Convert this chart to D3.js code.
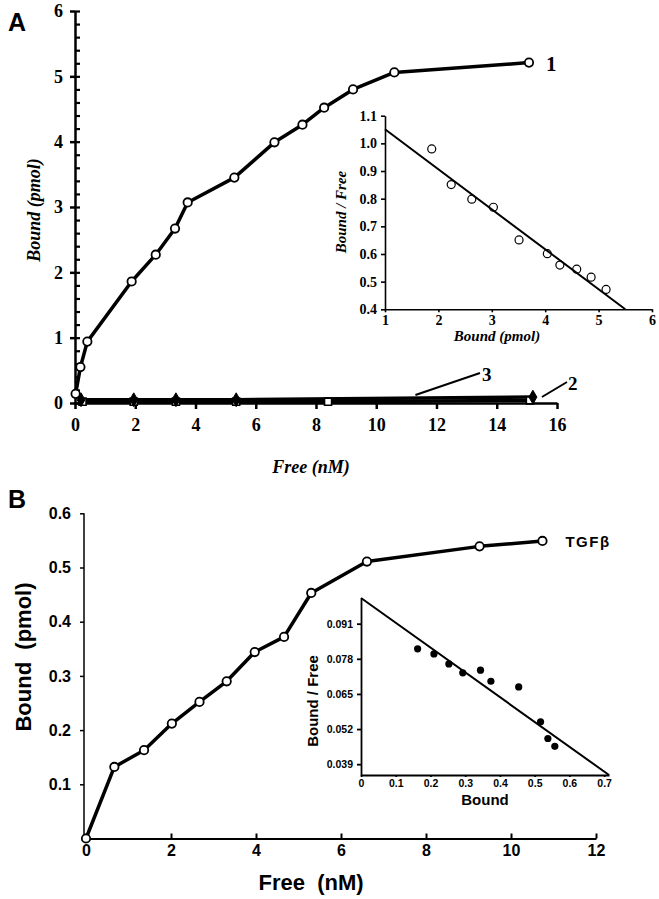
<!DOCTYPE html>
<html><head><meta charset="utf-8">
<script src="https://cdn.jsdelivr.net/npm/d3@7"></script>
<style>body{margin:0;background:#fff}svg{display:block}</style>
</head><body>
<svg id="c" width="659" height="899"></svg>
<script>
// ---------- Panel A data ----------
const freeA1  = [0.02, 0.18, 0.41, 1.88, 2.68, 3.32, 3.74, 5.29, 6.62, 7.55, 8.27, 9.23, 10.6, 15.07];
const boundA1 = [0.14, 0.55, 0.94, 1.86, 2.27, 2.67, 3.07, 3.45, 3.99, 4.26, 4.52, 4.80, 5.06, 5.21];
const freeA2  = [0.2, 1.95, 3.35, 5.35, 15.2];
const boundA2 = [0.05, 0.05, 0.05, 0.05, 0.09];
const freeA3  = [0.25, 1.95, 3.35, 5.35, 8.4, 15.1];
const boundA3 = [0.02, 0.02, 0.02, 0.02, 0.02, 0.04];
const xTicksA = [0, 2, 4, 6, 8, 10, 12, 14, 16];
const yTicksA = [0, 1, 2, 3, 4, 5, 6];
// inset A (Scatchard)
const insA_bound = [1.875, 2.24, 2.625, 3.03, 3.51, 4.04, 4.275, 4.59, 4.86, 5.14];
const insA_bf    = [0.98, 0.851, 0.798, 0.769, 0.651, 0.601, 0.560, 0.545, 0.516, 0.472];
const insA_fitX  = [1, 5.5];
const insA_fitY  = [1.051, 0.40];
const insA_xTicks = [1, 2, 3, 4, 5, 6];
const insA_yTicks = [0.4, 0.5, 0.6, 0.7, 0.8, 0.9, 1.0, 1.1];

// ---------- Panel B data ----------
const freeB  = [0, 0.667, 1.366, 2.02, 2.67, 3.31, 3.97, 4.66, 5.30, 6.61, 9.26, 10.74];
const boundB = [0.0, 0.132, 0.163, 0.212, 0.252, 0.290, 0.344, 0.372, 0.453, 0.511, 0.539, 0.549];
const xTicksB = [0, 2, 4, 6, 8, 10, 12];
const yTicksB = [0.1, 0.2, 0.3, 0.4, 0.5, 0.6];
// inset B
const insB_bound = [0.163, 0.210, 0.253, 0.293, 0.344, 0.374, 0.454, 0.517, 0.538, 0.558];
const insB_bf    = [0.0817, 0.0798, 0.0761, 0.0728, 0.0738, 0.0697, 0.0676, 0.0547, 0.0485, 0.0456];
const insB_fitX  = [0, 0.714];
const insB_fitY  = [0.1005, 0.035];
const insB_xTicks = [0, 0.1, 0.2, 0.3, 0.4, 0.5, 0.6, 0.7];
const insB_yTicks = [0.039, 0.052, 0.065, 0.078, 0.091];

const svg = d3.select("#c");
const SERIF = "'Liberation Serif','Times New Roman',serif";
const SANS = "'Liberation Sans',Arial,Helvetica,sans-serif";
const zip = (a, b) => a.map((v, i) => [v, b[i]]);

function styleAxis(g, font, size, weight, italic, sw) {
  g.attr("font-family", null).attr("font-size", null);
  g.selectAll("text").attr("font-family", font).attr("font-size", size)
    .attr("font-weight", weight).attr("font-style", italic ? "italic" : "normal").attr("fill", "#000");
  g.selectAll("line,path").attr("stroke", "#000").attr("stroke-width", sw);
}

// ================= PANEL A =================
const xA = d3.scaleLinear().domain([0, 16]).range([75, 557]);
const yA = d3.scaleLinear().domain([0, 6]).range([403, 11]);

const gyA = svg.append("g").attr("transform", `translate(${xA(0)},0)`)
  .call(d3.axisLeft(yA).tickValues(yTicksA).tickSizeInner(5).tickSizeOuter(0).tickPadding(7).tickFormat(d3.format("d")));
styleAxis(gyA, SERIF, 18, "bold", false, 2.5);
svg.append("g").attr("transform", `translate(${xA(0)},0)`)
  .call(d3.axisRight(yA).tickValues(d3.range(0, 6.001, 0.2)).tickSize(5).tickFormat(""))
  .call(g => { g.select(".domain").remove(); g.selectAll("line").attr("stroke", "#000").attr("stroke-width", 2.2); });

const gxA = svg.append("g").attr("transform", `translate(0,${yA(0)})`)
  .call(d3.axisBottom(xA).tickValues(xTicksA).tickSizeInner(6).tickSizeOuter(0).tickPadding(9).tickFormat(d3.format("d")));
styleAxis(gxA, SERIF, 18, "bold", false, 2.5);

const lineA = d3.line().x(d => xA(d[0])).y(d => yA(d[1]));
svg.append("path").datum(zip(freeA3, boundA3)).attr("d", lineA)
  .attr("fill", "none").attr("stroke", "#000").attr("stroke-width", 3.5);
svg.append("path").datum(zip(freeA2, boundA2)).attr("d", lineA)
  .attr("fill", "none").attr("stroke", "#000").attr("stroke-width", 3.5);
svg.append("g").selectAll("path").data(zip(freeA3, boundA3)).join("path")
  .attr("transform", d => `translate(${xA(d[0])},${yA(d[1])})`)
  .attr("d", d3.symbol(d3.symbolSquare, 50)).attr("fill", "#fff").attr("stroke", "#000").attr("stroke-width", 1.6);
svg.append("g").selectAll("path").data(zip(freeA2, boundA2)).join("path")
  .attr("transform", d => `translate(${xA(d[0])},${yA(d[1])})`)
  .attr("d", d3.symbol(d3.symbolDiamond, 55)).attr("fill", "#000").attr("stroke", "#000").attr("stroke-width", 1);

svg.append("path").datum(zip(freeA1, boundA1)).attr("d", lineA)
  .attr("fill", "none").attr("stroke", "#000").attr("stroke-width", 3.5).attr("stroke-linejoin", "round");
svg.append("g").selectAll("circle").data(zip(freeA1, boundA1)).join("circle")
  .attr("cx", d => xA(d[0])).attr("cy", d => yA(d[1])).attr("r", 4.2)
  .attr("fill", "#fff").attr("stroke", "#000").attr("stroke-width", 1.8);

svg.append("text").attr("x", 8).attr("y", 31).text("A")
  .attr("font-family", SANS).attr("font-weight", "bold").attr("font-size", 25);
svg.append("text").attr("transform", "translate(40,210) rotate(-90)").attr("text-anchor", "middle")
  .attr("font-family", SERIF).attr("font-weight", "bold").attr("font-style", "italic").attr("font-size", 18)
  .text("Bound (pmol)");
svg.append("text").attr("x", 311).attr("y", 473).attr("text-anchor", "middle")
  .attr("font-family", SERIF).attr("font-weight", "bold").attr("font-style", "italic").attr("font-size", 18)
  .text("Free (nM)");
svg.append("text").attr("x", xA(15.07) + 17).attr("y", yA(5.21) + 8)
  .attr("font-family", SERIF).attr("font-weight", "bold").attr("font-size", 21).text("1");
svg.append("line").attr("x1", xA(11.3)).attr("y1", 395).attr("x2", 480).attr("y2", 373)
  .attr("stroke", "#000").attr("stroke-width", 2);
svg.append("text").attr("x", 482).attr("y", 381)
  .attr("font-family", SERIF).attr("font-weight", "bold").attr("font-size", 19).text("3");
svg.append("line").attr("x1", xA(15.5)).attr("y1", 397).attr("x2", 567).attr("y2", 382)
  .attr("stroke", "#000").attr("stroke-width", 2);
svg.append("text").attr("x", 568).attr("y", 390)
  .attr("font-family", SERIF).attr("font-weight", "bold").attr("font-size", 19).text("2");

// ---- inset A ----
const xIA = d3.scaleLinear().domain([1, 6]).range([385, 652]);
const yIA = d3.scaleLinear().domain([0.4, 1.1]).range([309.3, 115.7]);
const gyIA = svg.append("g").attr("transform", `translate(${xIA(1)},0)`)
  .call(d3.axisLeft(yIA).tickValues(insA_yTicks).tickSizeInner(4).tickSizeOuter(0).tickPadding(4).tickFormat(d3.format(".1f")));
styleAxis(gyIA, SERIF, 14, "bold", false, 1.6);
const gxIA = svg.append("g").attr("transform", `translate(0,${yIA(0.4)})`)
  .call(d3.axisBottom(xIA).tickValues(insA_xTicks).tickSizeInner(3).tickSizeOuter(0).tickPadding(3).tickFormat(d3.format("d")));
styleAxis(gxIA, SERIF, 14, "bold", false, 1.6);
svg.append("path").datum(zip(insA_fitX, insA_fitY))
  .attr("d", d3.line().x(d => xIA(d[0])).y(d => yIA(d[1])))
  .attr("fill", "none").attr("stroke", "#000").attr("stroke-width", 2);
svg.append("g").selectAll("circle").data(zip(insA_bound, insA_bf)).join("circle")
  .attr("cx", d => xIA(d[0])).attr("cy", d => yIA(d[1])).attr("r", 4)
  .attr("fill", "none").attr("stroke", "#000").attr("stroke-width", 1.2);
svg.append("text").attr("transform", "translate(346,212) rotate(-90)").attr("text-anchor", "middle")
  .attr("font-family", SERIF).attr("font-weight", "bold").attr("font-style", "italic").attr("font-size", 15)
  .text("Bound / Free");
svg.append("text").attr("x", 497).attr("y", 341).attr("text-anchor", "middle")
  .attr("font-family", SERIF).attr("font-weight", "bold").attr("font-style", "italic").attr("font-size", 15)
  .text("Bound (pmol)");

// ================= PANEL B =================
const xB = d3.scaleLinear().domain([0, 12]).range([86, 596]);
const yB = d3.scaleLinear().domain([0, 0.6]).range([838.5, 513.3]);
const gyB = svg.append("g").attr("transform", `translate(${xB(0) - 2},0)`)
  .call(d3.axisLeft(yB).tickValues(yTicksB).tickSizeInner(4).tickSizeOuter(0).tickPadding(9).tickFormat(d3.format(".1f")));
styleAxis(gyB, SANS, 16, "bold", false, 1.5);
gyB.select(".domain").attr("d", `M0,${yB(0)}V${yB(0.6)}`);
const gxB = svg.append("g").attr("transform", `translate(0,${yB(0)})`)
  .call(d3.axisTop(xB).tickValues(xTicksB).tickSizeInner(5).tickSizeOuter(0).tickFormat(""));
styleAxis(gxB, SANS, 16, "bold", false, 2);
const gxBl = svg.append("g").attr("transform", `translate(0,${yB(0)})`)
  .call(d3.axisBottom(xB).tickValues(xTicksB).tickSize(0).tickPadding(6).tickFormat(d3.format("d")));
styleAxis(gxBl, SANS, 16, "bold", false, 0);
gxBl.select(".domain").remove();

const lineB = d3.line().x(d => xB(d[0])).y(d => yB(d[1]));
svg.append("path").datum(zip(freeB, boundB)).attr("d", lineB)
  .attr("fill", "none").attr("stroke", "#000").attr("stroke-width", 3.5).attr("stroke-linejoin", "round");
svg.append("g").selectAll("circle").data(zip(freeB, boundB)).join("circle")
  .attr("cx", d => xB(d[0])).attr("cy", d => yB(d[1])).attr("r", 4.2)
  .attr("fill", "#fff").attr("stroke", "#000").attr("stroke-width", 1.8);

svg.append("text").attr("x", 8).attr("y", 508).text("B")
  .attr("font-family", SANS).attr("font-weight", "bold").attr("font-size", 25);
svg.append("text").attr("transform", "translate(31,657) rotate(-90)").attr("text-anchor", "middle")
  .attr("font-family", SANS).attr("font-weight", "bold").attr("font-size", 22)
  .style("white-space", "pre").text("Bound  (pmol)");
svg.append("text").attr("x", 311).attr("y", 890).attr("text-anchor", "middle")
  .attr("font-family", SANS).attr("font-weight", "bold").attr("font-size", 22)
  .style("white-space", "pre").text("Free  (nM)");
svg.append("text").attr("x", xB(10.74) + 23).attr("y", yB(0.549) + 6)
  .attr("font-family", SANS).attr("font-weight", "bold").attr("font-size", 15).attr("letter-spacing", 1.5)
  .text("TGFβ");

// ---- inset B ----
const xIB = d3.scaleLinear().domain([0, 0.714]).range([361, 609]);
const yIB = d3.scaleLinear().domain([0.035, 0.1005]).range([775, 598]);
const gyIB = svg.append("g").attr("transform", `translate(${xIB(0)},0)`)
  .call(d3.axisLeft(yIB).tickValues(insB_yTicks).tickSizeInner(4).tickSizeOuter(0).tickPadding(4).tickFormat(d3.format(".3f")));
styleAxis(gyIB, SANS, 10.5, "bold", false, 1.8);
const gxIB = svg.append("g").attr("transform", `translate(0,${yIB(0.035)})`)
  .call(d3.axisBottom(xIB).tickValues(insB_xTicks).tickSizeInner(2).tickSizeOuter(0).tickPadding(3).tickFormat(d => d === 0 ? "0" : d3.format(".1f")(d)));
styleAxis(gxIB, SANS, 10.5, "bold", false, 1.8);
svg.append("path").datum(zip(insB_fitX, insB_fitY))
  .attr("d", d3.line().x(d => xIB(d[0])).y(d => yIB(d[1])))
  .attr("fill", "none").attr("stroke", "#000").attr("stroke-width", 2);
svg.append("g").selectAll("circle").data(zip(insB_bound, insB_bf)).join("circle")
  .attr("cx", d => xIB(d[0])).attr("cy", d => yIB(d[1])).attr("r", 3.6).attr("fill", "#000");
svg.append("text").attr("transform", "translate(318,701) rotate(-90)").attr("text-anchor", "middle")
  .attr("font-family", SANS).attr("font-weight", "bold").attr("font-size", 15)
  .text("Bound / Free");
svg.append("text").attr("x", 485).attr("y", 805).attr("text-anchor", "middle")
  .attr("font-family", SANS).attr("font-weight", "bold").attr("font-size", 15)
  .text("Bound");
</script>
</body></html>
